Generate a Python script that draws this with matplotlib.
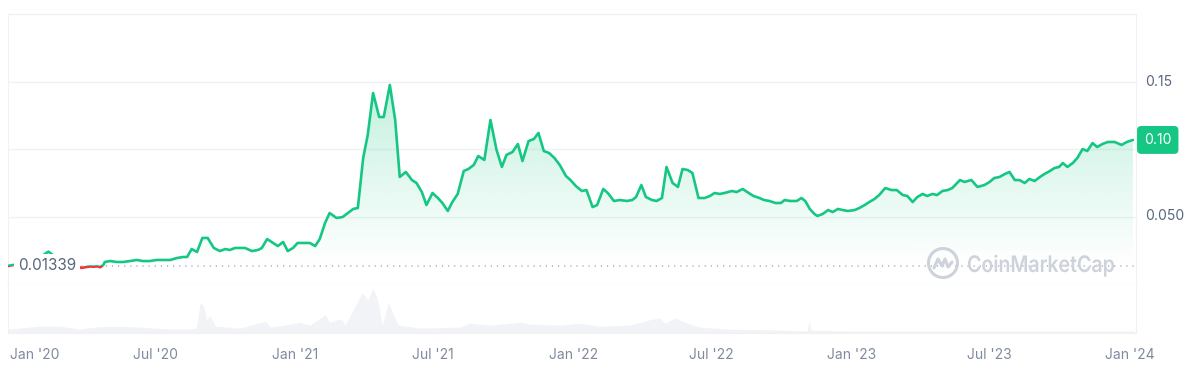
import matplotlib
matplotlib.use("Agg")
import matplotlib.pyplot as plt
import matplotlib.dates as mdates
import numpy as np
import pandas as pd
from matplotlib.patches import Rectangle, PathPatch, Circle
from matplotlib.transforms import blended_transform_factory, ScaledTranslation, Affine2D
from matplotlib.textpath import TextPath
from matplotlib.font_manager import FontProperties
from matplotlib.lines import Line2D

plt.rcParams['font.family'] = ['Inter', 'DejaVu Sans']

# ---------------- data ----------------
price_dates = [
    "2019-12-21", "2020-01-06", "2020-01-26", "2020-02-12", "2020-02-27", "2020-03-14", "2020-03-26",
    "2020-03-31", "2020-04-07", "2020-04-11", "2020-04-16", "2020-04-20", "2020-04-24", "2020-04-26",
    "2020-05-03", "2020-05-12", "2020-05-20", "2020-05-29", "2020-06-07", "2020-06-15", "2020-06-24",
    "2020-07-03", "2020-07-11", "2020-07-21", "2020-07-30", "2020-08-07", "2020-08-12", "2020-08-18",
    "2020-08-25", "2020-09-01", "2020-09-08", "2020-09-16", "2020-09-24", "2020-10-01", "2020-10-07",
    "2020-10-14", "2020-10-27", "2020-11-05", "2020-11-13", "2020-11-18", "2020-11-25", "2020-12-01",
    "2020-12-09", "2020-12-16", "2020-12-22", "2020-12-29", "2021-01-04", "2021-01-16", "2021-01-20",
    "2021-01-27", "2021-02-02", "2021-02-09", "2021-02-15", "2021-02-24", "2021-03-04", "2021-03-11",
    "2021-03-18", "2021-03-24", "2021-03-31", "2021-04-06", "2021-04-13", "2021-04-21", "2021-04-27",
    "2021-05-05", "2021-05-12", "2021-05-18", "2021-05-26", "2021-06-03", "2021-06-09", "2021-06-16",
    "2021-06-22", "2021-06-30", "2021-07-07", "2021-07-13", "2021-07-20", "2021-07-26", "2021-08-02",
    "2021-08-10", "2021-08-16", "2021-08-23", "2021-08-29", "2021-09-06", "2021-09-14", "2021-09-22",
    "2021-09-29", "2021-10-05", "2021-10-13", "2021-10-20", "2021-10-26", "2021-11-03", "2021-11-10",
    "2021-11-16", "2021-11-23", "2021-11-30", "2021-12-07", "2021-12-14", "2021-12-22", "2021-12-28",
    "2022-01-04", "2022-01-12", "2022-01-18", "2022-01-26", "2022-02-01", "2022-02-09", "2022-02-15",
    "2022-02-23", "2022-03-03", "2022-03-12", "2022-03-19", "2022-03-24", "2022-03-31", "2022-04-06",
    "2022-04-14", "2022-04-20", "2022-04-27", "2022-05-03", "2022-05-11", "2022-05-18", "2022-05-24",
    "2022-05-31", "2022-06-06", "2022-06-14", "2022-06-22", "2022-06-29", "2022-07-05", "2022-07-12",
    "2022-07-18", "2022-07-28", "2022-08-03", "2022-08-11", "2022-08-17", "2022-08-25", "2022-09-02",
    "2022-09-08", "2022-09-15", "2022-09-23", "2022-09-30", "2022-10-05", "2022-10-12", "2022-10-21",
    "2022-10-27", "2022-11-01", "2022-11-07", "2022-11-13", "2022-11-17", "2022-11-24", "2022-12-01",
    "2022-12-07", "2022-12-14", "2022-12-20", "2022-12-27", "2023-01-05", "2023-01-11", "2023-01-18",
    "2023-01-24", "2023-01-31", "2023-02-06", "2023-02-14", "2023-02-22", "2023-03-01", "2023-03-09",
    "2023-03-15", "2023-03-22", "2023-03-28", "2023-04-04", "2023-04-10", "2023-04-17", "2023-04-23",
    "2023-04-30", "2023-05-07", "2023-05-13", "2023-05-23", "2023-05-29", "2023-06-07", "2023-06-15",
    "2023-06-24", "2023-07-01", "2023-07-07", "2023-07-14", "2023-07-21", "2023-07-27", "2023-08-03",
    "2023-08-09", "2023-08-16", "2023-08-22", "2023-08-29", "2023-09-05", "2023-09-11", "2023-09-18",
    "2023-09-24", "2023-09-30", "2023-10-05", "2023-10-11", "2023-10-18", "2023-10-24", "2023-10-31",
    "2023-11-06", "2023-11-13", "2023-11-19", "2023-11-26", "2023-12-03", "2023-12-12", "2023-12-21",
    "2023-12-28", "2024-01-05",
]
price_values = [
    0.01339, 0.0150, 0.0175, 0.0240, 0.0175, 0.0150, 0.0119,
    0.0124, 0.0130, 0.0128, 0.0131, 0.0124, 0.0141, 0.0163,
    0.0170, 0.0163, 0.0163, 0.0170, 0.0178, 0.0170, 0.0170,
    0.0178, 0.0178, 0.0178, 0.0193, 0.0200, 0.0200, 0.0259,
    0.0237, 0.0341, 0.0341, 0.0267, 0.0244, 0.0259, 0.0252,
    0.0267, 0.0267, 0.0244, 0.0252, 0.0267, 0.0333, 0.0311,
    0.0281, 0.0311, 0.0244, 0.0267, 0.0304, 0.0304, 0.0304,
    0.0281, 0.0333, 0.0452, 0.0526, 0.0489, 0.0496, 0.0526,
    0.0556, 0.0563, 0.0933, 0.1104, 0.1415, 0.1237, 0.1237,
    0.1474, 0.1215, 0.0793, 0.0830, 0.0770, 0.0748, 0.0681,
    0.0585, 0.0674, 0.0637, 0.0600, 0.0541, 0.0607, 0.0667,
    0.0837, 0.0852, 0.0881, 0.0948, 0.0919, 0.1215, 0.0993,
    0.0867, 0.0956, 0.0978, 0.1037, 0.0911, 0.1059, 0.1074,
    0.1119, 0.0985, 0.0970, 0.0933, 0.0881, 0.0800, 0.0770,
    0.0726, 0.0689, 0.0696, 0.0570, 0.0585, 0.0704, 0.0674,
    0.0615, 0.0622, 0.0615, 0.0622, 0.0644, 0.0733, 0.0644,
    0.0622, 0.0615, 0.0637, 0.0867, 0.0748, 0.0719, 0.0852,
    0.0844, 0.0822, 0.0637, 0.0637, 0.0652, 0.0674, 0.0667,
    0.0674, 0.0689, 0.0681, 0.0704, 0.0681, 0.0652, 0.0637,
    0.0622, 0.0615, 0.0600, 0.0600, 0.0622, 0.0615, 0.0615,
    0.0637, 0.0615, 0.0556, 0.0519, 0.0504, 0.0519, 0.0548,
    0.0533, 0.0556, 0.0548, 0.0541, 0.0548, 0.0563, 0.0585,
    0.0607, 0.0630, 0.0659, 0.0711, 0.0696, 0.0696, 0.0659,
    0.0652, 0.0607, 0.0644, 0.0667, 0.0652, 0.0667, 0.0659,
    0.0689, 0.0696, 0.0711, 0.0770, 0.0756, 0.0770, 0.0719,
    0.0733, 0.0756, 0.0785, 0.0793, 0.0815, 0.0830, 0.0770,
    0.0770, 0.0748, 0.0778, 0.0763, 0.0793, 0.0815, 0.0837,
    0.0859, 0.0867, 0.0896, 0.0867, 0.0896, 0.0933, 0.1000,
    0.0985, 0.1044, 0.1015, 0.1037, 0.1052, 0.1052, 0.1030,
    0.1052, 0.1067,
]

volume_dates = [
    "2019-12-21", "2020-02-01", "2020-02-27", "2020-03-24", "2020-04-13", "2020-05-03", "2020-06-11",
    "2020-07-21", "2020-08-16", "2020-08-24", "2020-08-29", "2020-09-02", "2020-09-07", "2020-09-11",
    "2020-09-18", "2020-10-20", "2020-11-23", "2020-11-29", "2020-12-18", "2021-01-07", "2021-01-20",
    "2021-02-09", "2021-02-15", "2021-03-02", "2021-03-07", "2021-03-30", "2021-04-06", "2021-04-13",
    "2021-04-19", "2021-04-25", "2021-05-03", "2021-05-08", "2021-05-16", "2021-06-14", "2021-08-05",
    "2021-08-18", "2021-09-13", "2021-10-23", "2021-11-05", "2021-12-14", "2022-01-09", "2022-02-04",
    "2022-03-16", "2022-04-11", "2022-04-24", "2022-05-01", "2022-05-14", "2022-05-27", "2022-06-15",
    "2022-07-24", "2022-09-28", "2022-11-03", "2022-11-06", "2022-11-09", "2022-12-29", "2023-03-05",
    "2023-07-14", "2024-01-07",
]
volume_values = [
    8, 14, 14, 8, 12, 14, 12,
    8, 8, 10, 61, 57, 27, 35,
    14, 10, 24, 12, 16, 22, 16,
    37, 22, 29, 16, 82, 67, 92,
    67, 16, 63, 43, 16, 10, 12,
    20, 16, 22, 18, 16, 20, 14,
    16, 27, 31, 20, 31, 22, 12,
    8, 6, 4, 22, 6, 4, 4,
    4, 4,
]

baseline_price = 0.01339
current_label = "0.10"
right_labels = ["0.15", "0.050"]
right_label_values = [0.15, 0.05]
grid_values = [0.0, 0.05, 0.10, 0.15, 0.20]
tick_dates = ["2020-01-01", "2020-07-01", "2021-01-01", "2021-07-01", "2022-01-01",
              "2022-07-01", "2023-01-01", "2023-07-01", "2024-01-01"]
tick_labels = ["Jan '20", "Jul '20", "Jan '21", "Jul '21", "Jan '22",
               "Jul '22", "Jan '23", "Jul '23", "Jan '24"]
x_range = ["2019-12-21", "2024-01-09"]

# ---------------- style ----------------
GREEN = "#16C784"
RED = "#EA3943"
GRID = "#EFF2F5"
TEXT = "#58667E"
TICK = "#808A9D"
WM = "#CDD2DB"

W, H = 1200, 377
fig = plt.figure(figsize=(W / 100, H / 100), dpi=100)
ax = fig.add_axes([8 / W, 1 - 284 / H, 1128 / W, 270 / H])
axv = fig.add_axes([8 / W, 1 - 333 / H, 1128 / W, 49 / H], sharex=ax)

x = mdates.date2num(pd.to_datetime(price_dates))
y = np.array(price_values)
xmin, xmax = mdates.date2num(pd.to_datetime(x_range))

ax.set_xlim(xmin, xmax)
ax.set_ylim(0, 0.20)

# grid
for g in grid_values:
    ax.axhline(g, color=GRID, lw=1.0, zorder=0, clip_on=False)
for s in ["top", "bottom"]:
    ax.spines[s].set_visible(False)
for s in ["left", "right"]:
    ax.spines[s].set_color(GRID)
ax.tick_params(left=False, bottom=False, labelleft=False, labelbottom=False)

# gradient fill between line and baseline
poly = ax.fill_between(x, y, baseline_price, color="none", lw=0)
clip = PathPatch(poly.get_paths()[0], transform=ax.transData, fc="none", ec="none")
ax.add_patch(clip)
n = 256
grad = np.zeros((n, 1, 4))
grad[:, 0, :3] = matplotlib.colors.to_rgb(GREEN)
grad[:, 0, 3] = np.linspace(0.0, 0.26, n)
im = ax.imshow(grad, extent=[xmin, xmax, baseline_price, 0.15], origin="lower",
               aspect="auto", zorder=1, interpolation="bilinear")
im.set_clip_path(clip)
ax.set_xlim(xmin, xmax)
ax.set_ylim(0, 0.20)

# baseline dotted line
ax.axhline(baseline_price, color="#A6B0C3", lw=1.1, ls=(0, (0.8, 3.2)), zorder=2)

# price line: green above baseline, red below
gl, = ax.plot(x, y, color=GREEN, lw=1.9, zorder=3, solid_joinstyle="round", solid_capstyle="round")
rl, = ax.plot(x, y, color=RED, lw=1.9, zorder=3, solid_joinstyle="round", solid_capstyle="round")
gl.set_clip_path(Rectangle((xmin, baseline_price), xmax - xmin, 1, transform=ax.transData))
rl.set_clip_path(Rectangle((xmin, -1), xmax - xmin, 1 + baseline_price, transform=ax.transData))

# baseline label
bt = blended_transform_factory(ax.transAxes, ax.transData)
ax.text(10 / 1128, baseline_price, "0.01339", transform=bt, ha="left", va="center",
        fontsize=11, color=TEXT, zorder=5,
        bbox=dict(boxstyle="square,pad=0.28", fc="white", ec="none"))

# right labels
for v, lab in zip(right_label_values, right_labels):
    ax.text(1 + 9 / 1128, v, lab, transform=bt, ha="left", va="center",
            fontsize=10, color=TEXT, clip_on=False)
ax.text(1 + 8 / 1128, y[-1], current_label, transform=bt, ha="left", va="center",
        fontsize=10, color="white", clip_on=False, zorder=6,
        bbox=dict(boxstyle="round,pad=0.5,rounding_size=0.3", fc=GREEN, ec="none"))

# watermark (text path scaled to the logo's footprint)
fp = FontProperties(family="Inter", weight="semibold")
tp = TextPath((0, 0), "CoinMarketCap", size=1, prop=fp)
cap = TextPath((0, 0), "C", size=1, prop=fp).get_extents()
bb = tp.get_extents()
sx = 146 / bb.width
sy = 17 / cap.height
wm_tr = Affine2D().translate(-bb.x0, 0).scale(sx, sy).translate(968, H - 272)
fig.patches.append(PathPatch(tp, transform=wm_tr, fc=WM, ec="none", zorder=4))
circ = Circle((0, 0), 1, fc="none", ec=WM, lw=2.2, zorder=4,
              transform=Affine2D().scale(14.5).translate(943, H - 263))
fig.patches.append(circ)
zx = np.array([-9, -5, -1, 2, 5, 9])
zy = np.array([-5, 4, -3, 4, -4, 1])
fig.lines.append(Line2D(943 + zx, H - 263 + zy, color=WM, lw=2.2,
                        transform=None, solid_joinstyle="round", solid_capstyle="round"))

# volume panel
xv = mdates.date2num(pd.to_datetime(volume_dates))
axv.fill_between(xv, volume_values, 0, color="#F1F3F6", lw=0)
axv.set_ylim(0, 100)
axv.spines["top"].set_visible(False)
for s in ["left", "right", "bottom"]:
    axv.spines[s].set_color(GRID)
axv.tick_params(left=False, labelleft=False, length=0, pad=11, labelsize=10, labelcolor=TICK)
axv.set_xticks(mdates.date2num(pd.to_datetime(tick_dates)))
axv.set_xticklabels(tick_labels)
first = axv.get_xticklabels()[0]
first.set_ha("left")
first.set_transform(first.get_transform() + ScaledTranslation(-6 / 100, 0, fig.dpi_scale_trans))
axv.set_xlim(xmin, xmax)

fig.savefig("out.png", dpi=100)
